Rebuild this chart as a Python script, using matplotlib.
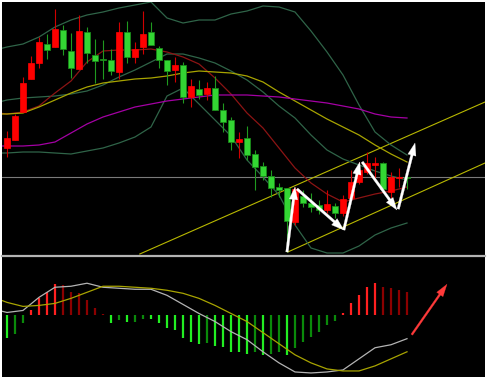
import numpy as np
import matplotlib
matplotlib.use("Agg")
import matplotlib.pyplot as plt

# ---- K线数据 (51根) ----
opens = [152, 160, 188, 221, 237, 256, 253, 270, 249, 231, 268, 245, 241, 240, 228, 268, 243,
         253, 268, 252, 240, 230, 235, 203, 211, 206, 212, 190, 180, 158, 162, 146, 134, 124,
         113, 112, 78, 104, 97, 95, 90, 94, 87, 102, 118, 128, 135, 137, 108, 122, 123]
closes = [162, 184, 217, 237, 258, 250, 271, 251, 232, 269, 247, 239, 240, 229, 268, 243, 251,
          266, 255, 240, 229, 235, 203, 214, 205, 212, 190, 178, 158, 161, 145, 133, 124, 112,
          110, 79, 111, 97, 93, 90, 96, 87, 101, 118, 130, 137, 137, 111, 123, 123, 122]
highs = [169, 186, 223, 244, 263, 266, 291, 275, 267, 285, 273, 261, 260, 251, 278, 279, 258,
         289, 278, 254, 240, 243, 238, 221, 220, 218, 224, 197, 183, 168, 174, 150, 138, 130,
         117, 112, 113, 110, 107, 100, 110, 97, 105, 130, 138, 148, 143, 138, 128, 132, 124]
lows = [143, 160, 188, 221, 232, 241, 253, 245, 222, 231, 237, 217, 221, 225, 221, 237, 237,
        246, 255, 232, 215, 218, 197, 193, 201, 200, 190, 168, 150, 142, 140, 110, 120, 103,
        103, 48, 75, 93, 88, 86, 87, 82, 84, 100, 116, 126, 122, 108, 102, 113, 111]

# ---- 均线 / 布林带 (每两根采样) ----
line_idx = [-1] + list(range(0, 51, 2))
boll_up = [251, 253, 256, 263, 273, 280, 285, 288, 292, 295, 298, 282, 277, 280, 280, 286, 289,
           294, 293, 288, 269, 248, 225, 195, 168, 155, 145]
boll_mid = [198, 200, 202, 203, 204, 206, 209, 215, 223, 230, 238, 246, 246, 242, 237, 229, 220,
            208, 194, 182, 165, 150, 141, 135, 129, 124, 120]
boll_low = [147, 147, 148, 148, 147, 146, 149, 152, 157, 163, 173, 204, 212, 196, 180, 164, 140,
            123, 105, 75, 52, 47, 47, 54, 65, 72, 77]
ma_red = [187, 186, 188, 194, 207, 219, 238, 249, 250, 250, 251, 248, 243, 236, 222, 206, 187,
          172, 152, 132, 117, 106, 98, 102, 106, 109, 113]
ma_yellow = [186, 186, 187, 193, 200, 207, 213, 217, 219, 221, 222, 224, 227, 229, 228, 227, 224,
             218, 208, 199, 190, 181, 173, 165, 155, 146, 138]
ma_purple = [154, 154, 154, 155, 158, 167, 176, 183, 188, 193, 196, 199, 201, 203, 205, 205, 205,
             204, 203, 201, 199, 197, 194, 191, 186, 183, 182]

# ---- 趋势通道 / 水平线 ----
chan_up_x, chan_up_y = [16.6, 59.75], [46, 198]
chan_low_x, chan_low_y = [35.1, 59.75], [48, 137]
level_line = 123

# 白色折线箭头 (起点, 终点)
zigzag = [((35.0, 48), (36.0, 113)),
          ((36.25, 111), (42.1, 70)),
          ((42.1, 70), (44.1, 138)),
          ((44.4, 138), (48.75, 90)),
          ((48.9, 91), (51.0, 157))]

# ---- MACD ----
macd_hist = [-0.22, -0.18, -0.07, 0.05, 0.17, 0.23, 0.31, 0.30, 0.23, 0.22, 0.15, 0.07, 0.01,
             -0.07, -0.04, -0.06, -0.06, -0.03, -0.035, -0.07, -0.12, -0.14, -0.22, -0.26, -0.28,
             -0.27, -0.30, -0.31, -0.36, -0.365, -0.38, -0.36, -0.39, -0.38, -0.36, -0.39, -0.32,
             -0.26, -0.21, -0.16, -0.09, -0.05, 0.02, 0.12, 0.20, 0.28, 0.32, 0.28, 0.27, 0.25, 0.23]
dif = [0.05, 0.03, 0.05, 0.18, 0.28, 0.29, 0.32, 0.28, 0.27, 0.26, 0.26, 0.20, 0.11, 0.02, -0.06,
       -0.16, -0.24, -0.36, -0.47, -0.56, -0.57, -0.56, -0.54, -0.43, -0.32, -0.29, -0.23]
dea = [0.16, 0.13, 0.09, 0.10, 0.12, 0.17, 0.23, 0.29, 0.29, 0.28, 0.27, 0.25, 0.22, 0.17, 0.10,
       0.02, -0.06, -0.17, -0.28, -0.39, -0.47, -0.53, -0.55, -0.55, -0.50, -0.43, -0.36]
macd_arrow = ((50.6, -0.19), (55.0, 0.31))

W, H = 487, 379
fig = plt.figure(figsize=(W / 100, H / 100), dpi=100, facecolor="white")
ax = fig.add_axes([2 / W, 1 - 256 / H, 483 / W, 254 / H], facecolor="black")
ax2 = fig.add_axes([2 / W, 2 / H, 483 / W, 121 / H], facecolor="black")
ax.set_zorder(2)

for a in (ax, ax2):
    a.set_xlim(-0.625, 59.75)
    a.set_xticks([])
    a.set_yticks([])
    for s in a.spines.values():
        s.set_visible(False)
ax.spines["bottom"].set_visible(True)
ax.spines["bottom"].set_color("#b4b4b4")
ax.spines["bottom"].set_linewidth(1.6)
ax.set_ylim(44, 298)
ax2.set_ylim(-0.61, 0.59)

# 主图指标线
ax.axhline(level_line, color="#7a7a7a", lw=0.8, zorder=1)
ax.plot(chan_up_x, chan_up_y, color="#b8b800", lw=0.8, zorder=1)
ax.plot(chan_low_x, chan_low_y, color="#b8b800", lw=0.8, zorder=1)
for vals in (boll_up, boll_mid, boll_low):
    ax.plot(line_idx, vals, color="#2f6448", lw=0.9, zorder=1)
ax.plot(line_idx, ma_red, color="#8c1414", lw=0.9, zorder=1)
ax.plot(line_idx, ma_yellow, color="#a8a400", lw=0.9, zorder=1)
ax.plot(line_idx, ma_purple, color="#a400a4", lw=0.9, zorder=1)

# K线
idx = np.arange(len(opens))
o = np.array(opens)
c = np.array(closes)
up = c >= o
wick_col = np.where(up, "#d00000", "#1f9a1f")
ax.vlines(idx, lows, highs, colors=wick_col, lw=0.8, zorder=3)
bottom = np.minimum(o, c)
height = np.maximum(np.abs(c - o), 1.5)
ax.bar(idx[up], height[up], bottom=bottom[up], width=0.72, color="#ff0000",
       edgecolor="#ff0000", lw=0.5, zorder=4)
ax.bar(idx[~up], height[~up], bottom=bottom[~up], width=0.72, color="#33d633",
       edgecolor="#1a8a1a", lw=0.6, zorder=4)

# 白色箭头
for (x0, y0), (x1, y1) in zigzag:
    ax.annotate("", xy=(x1, y1), xytext=(x0, y0), zorder=6,
                arrowprops=dict(arrowstyle="simple,head_length=0.9,head_width=0.6,tail_width=0.18",
                                mutation_scale=10, fc="white", ec="white", lw=0.2,
                                shrinkA=0, shrinkB=0))

# MACD 柱
hist = np.array(macd_hist)
prev = np.concatenate([[0.0], hist[:-1]])
grow = (np.abs(hist) > np.abs(prev)) | (np.sign(hist) != np.sign(prev))
cols = []
for v, g in zip(hist, grow):
    if v >= 0:
        cols.append("#ff2020" if g else "#8c0000")
    else:
        cols.append("#22ee22" if g else "#0a8a0a")
ax2.vlines(idx, 0, hist, colors=cols, lw=1.6)
ax2.plot(line_idx, dif, color="#b4b4b4", lw=0.9)
ax2.plot(line_idx, dea, color="#a8a400", lw=0.9)
ax2.annotate("", xy=macd_arrow[1], xytext=macd_arrow[0],
             arrowprops=dict(arrowstyle="simple,head_length=0.9,head_width=0.55,tail_width=0.14",
                             mutation_scale=10, fc="#ff3a3a", ec="#ff3a3a", lw=0.2,
                             shrinkA=0, shrinkB=0))

fig.savefig("out.png", dpi=100, facecolor="white")
plt.close(fig)
